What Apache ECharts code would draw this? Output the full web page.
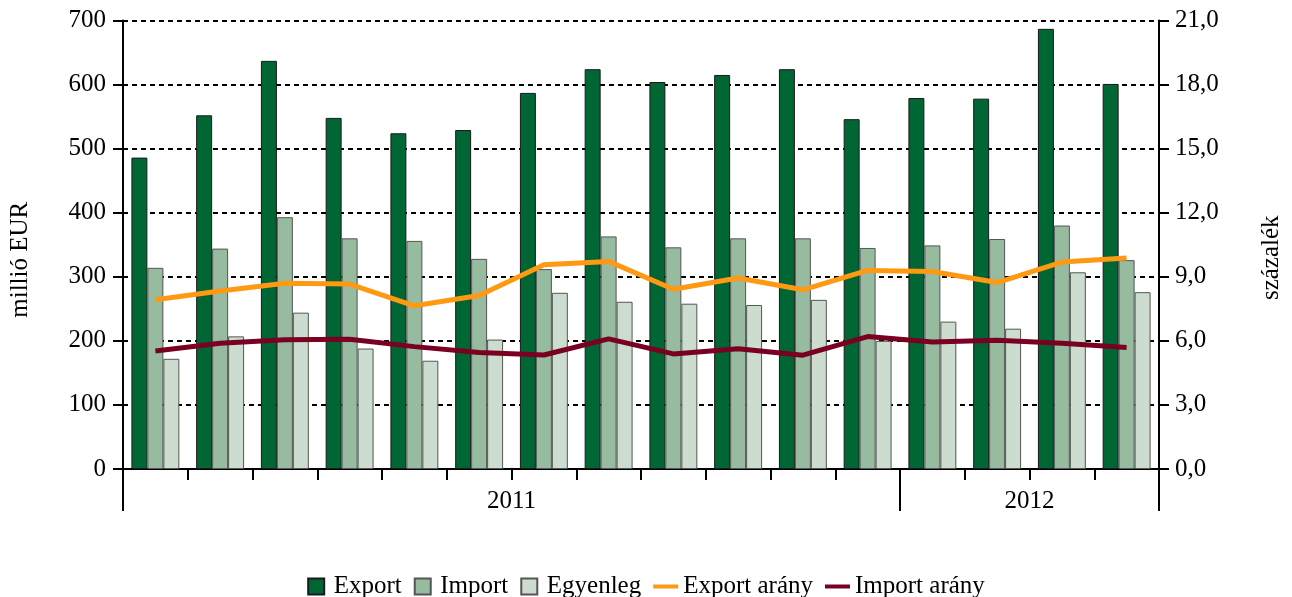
<!DOCTYPE html>
<html>
<head>
<meta charset="utf-8">
<script src="https://cdn.jsdelivr.net/npm/echarts@6/dist/echarts.min.js"></script>
<style>
html,body{margin:0;padding:0;background:#fff;}
#chart{width:1292px;height:597px;}
</style>
</head>
<body>
<div id="chart"></div>
<script>
var categories = ['2011. jan.','2011. febr.','2011. márc.','2011. ápr.','2011. máj.','2011. jún.','2011. júl.','2011. aug.','2011. szept.','2011. okt.','2011. nov.','2011. dec.','2012. jan.','2012. febr.','2012. márc.','2012. ápr.'];
var exportValues = [486,552,637,548,524,529,587,624,604,615,624,546,579,578,687,601];
var importValues = [314,344,393,360,356,328,312,363,346,360,360,345,349,359,380,326];
var egyenlegValues = [172,207,244,188,169,202,275,261,258,256,264,200,230,219,307,276];
var exportArany = [7.92,8.33,8.70,8.66,7.64,8.12,9.56,9.72,8.42,8.94,8.39,9.30,9.25,8.73,9.69,9.88];
var importArany = [5.53,5.89,6.05,6.08,5.73,5.45,5.34,6.09,5.39,5.63,5.33,6.20,5.95,6.03,5.89,5.69];
var yearLabels = ['2011','2012'];
var yearLabelPositions = [6,14];
var yearBoundaries = [0,12,16];

var FONT = '"Liberation Serif","Times New Roman",serif';
var FS = 25;
var chart = echarts.init(document.getElementById('chart'), null, {renderer:'canvas'});
var option = {
  animation:false,
  textStyle:{fontFamily:FONT,color:'#000'},
  grid:{left:123,right:131,top:20.5,bottom:128,containLabel:false},
  legend:{
    top:569,left:'center',
    itemWidth:25,itemHeight:16,itemGap:12,
    textStyle:{fontFamily:FONT,fontSize:FS,color:'#000'},
    data:[
      {name:'Export',icon:'path://M0,0h10v10h-10z'},
      {name:'Import',icon:'path://M0,0h10v10h-10z'},
      {name:'Egyenleg',icon:'path://M0,0h10v10h-10z'},
      {name:'Export arány',icon:'path://M0,0h25v4h-25z',itemStyle:{color:'#FF9912',borderWidth:0}},
      {name:'Import arány',icon:'path://M0,0h25v4h-25z',itemStyle:{color:'#7A0022',borderWidth:0}}
    ]
  },
  xAxis:[
    {
      type:'category',data:categories,boundaryGap:true,
      axisLine:{show:true,lineStyle:{color:'#000',width:2}},
      axisTick:{show:true,interval:0,length:11,lineStyle:{color:'#000',width:2}},
      axisLabel:{show:false,interval:0},
      splitLine:{show:false}
    },
    {
      type:'value',min:0,max:16,position:'bottom',gridIndex:0,
      axisLine:{show:false},
      axisTick:{show:true,length:42,customValues:yearBoundaries,lineStyle:{color:'#000',width:2}},
      axisLabel:{show:true,customValues:yearLabelPositions,margin:20,fontSize:FS,fontFamily:FONT,color:'#000',
        formatter:function(v){return yearLabels[yearLabelPositions.indexOf(v)];}},
      splitLine:{show:false}
    }
  ],
  yAxis:[
    {
      type:'value',min:0,max:700,interval:100,position:'left',
      name:'millió EUR',nameLocation:'middle',nameRotate:90,nameGap:90,
      nameTextStyle:{fontFamily:FONT,fontSize:FS,color:'#000',padding:[0,30,0,0]},
      axisLine:{show:true,lineStyle:{color:'#000',width:2}},
      axisTick:{show:true,length:10,lineStyle:{color:'#000',width:2}},
      axisLabel:{margin:17,fontSize:FS,fontFamily:FONT,color:'#000'},
      splitLine:{show:true,lineStyle:{color:'#000',width:2,type:[5,4]}}
    },
    {
      type:'value',min:0,max:21,interval:3,position:'right',
      name:'százalék',nameLocation:'middle',nameRotate:90,nameGap:100,
      nameTextStyle:{fontFamily:FONT,fontSize:FS,color:'#000',padding:[0,26,0,0]},
      axisLine:{show:true,lineStyle:{color:'#000',width:2}},
      axisTick:{show:true,length:10,lineStyle:{color:'#000',width:2}},
      axisLabel:{margin:16,fontSize:FS,fontFamily:FONT,color:'#000',
        formatter:function(v){return v.toFixed(1).replace('.',',');}},
      splitLine:{show:false}
    }
  ],
  series:[
    {name:'Export',type:'bar',xAxisIndex:0,yAxisIndex:0,data:exportValues,barGap:'0%',barCategoryGap:'26%',
      itemStyle:{color:'#006633',borderColor:'#1a1a1a',borderWidth:1}},
    {name:'Import',type:'bar',xAxisIndex:0,yAxisIndex:0,data:importValues,barGap:'0%',barCategoryGap:'26%',
      itemStyle:{color:'#96BB9F',borderColor:'#555',borderWidth:1}},
    {name:'Egyenleg',type:'bar',xAxisIndex:0,yAxisIndex:0,data:egyenlegValues,barGap:'0%',barCategoryGap:'26%',
      itemStyle:{color:'#CCDDCF',borderColor:'#555',borderWidth:1}},
    {name:'Export arány',type:'line',xAxisIndex:0,yAxisIndex:1,data:exportArany,symbol:'none',
      lineStyle:{color:'#FF9912',width:5},itemStyle:{color:'#FF9912'}},
    {name:'Import arány',type:'line',xAxisIndex:0,yAxisIndex:1,data:importArany,symbol:'none',
      lineStyle:{color:'#7A0022',width:5},itemStyle:{color:'#7A0022'}}
  ]
};
chart.setOption(option);
</script>
</body>
</html>
